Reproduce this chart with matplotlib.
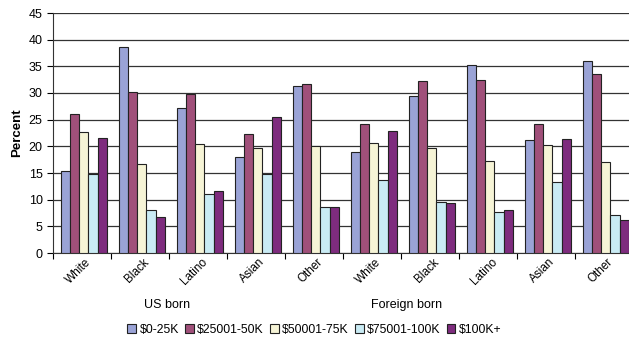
import numpy as np
import matplotlib.pyplot as plt

plt.rcParams['font.family'] = ['Liberation Sans', 'DejaVu Sans']

# ---- data ----
groups = ['White', 'Black', 'Latino', 'Asian', 'Other',
          'White', 'Black', 'Latino', 'Asian', 'Other']
income = ['$0-25K', '$25001-50K', '$50001-75K', '$75001-100K', '$100K+']

inc_0_25 = [15.4, 38.7, 27.2, 18.0, 31.3, 18.9, 29.5, 35.2, 21.1, 36.0]
inc_25_50 = [26.1, 30.1, 29.9, 22.3, 31.7, 24.2, 32.3, 32.5, 24.2, 33.6]
inc_50_75 = [22.7, 16.6, 20.4, 19.7, 20.0, 20.7, 19.6, 17.2, 20.2, 17.0]
inc_75_100 = [14.9, 8.0, 11.1, 14.9, 8.7, 13.6, 9.6, 7.6, 13.4, 7.2]
inc_100 = [21.6, 6.8, 11.7, 25.5, 8.6, 22.9, 9.4, 8.0, 21.3, 6.2]

series = [inc_0_25, inc_25_50, inc_50_75, inc_75_100, inc_100]
colors = ['#9AA3D6', '#A0507A', '#F6F4D6', '#C9EBF4', '#7E2C7E']

fig = plt.figure(figsize=(6.29, 3.41), dpi=100)
ax = fig.add_axes([53 / 629, 88 / 341, 1 - 53 / 629, 240 / 341])

x = np.arange(len(groups))
w = 0.16
for i, (vals, c) in enumerate(zip(series, colors)):
    ax.bar(x - 2 * w + i * w + 0.03, vals, width=w, color=c, edgecolor='#222222',
           linewidth=0.8, label=income[i], zorder=3)

ax.set_ylim(0, 45)
ax.set_xlim(-0.5, 9.43)
ax.set_yticks(range(0, 46, 5))
ax.tick_params(axis='y', labelsize=9, length=4, width=0.8)
ax.grid(axis='y', color='#333333', linewidth=0.9, zorder=0)
ax.set_axisbelow(True)

for s in ['top', 'right']:
    ax.spines[s].set_visible(False)
ax.spines['left'].set_color('#333333')
ax.spines['bottom'].set_color('#333333')

# tick marks between groups, labels at group centres
ax.set_xticks(np.arange(-0.5, 9.5, 1.0))
ax.set_xticklabels([])
ax.tick_params(axis='x', length=4, width=0.8)
for xi, g in zip(x, groups):
    ax.text(xi + 0.05, -0.6, g, rotation=45, ha='right', va='top', rotation_mode='anchor',
            fontsize=8.5)

ax.text(1.47, -9.8, 'US born', ha='center', va='center', fontsize=9)
ax.text(5.6, -9.8, 'Foreign born', ha='center', va='center', fontsize=9)

ax.set_ylabel('Percent', fontsize=9.5, fontweight='bold', labelpad=4)

fig.legend(loc='center', bbox_to_anchor=(0.5, 1 - 330 / 341), ncol=5, frameon=False,
           fontsize=8.8, handlelength=0.7, handleheight=0.7, handletextpad=0.3,
           columnspacing=0.5)

fig.savefig('out.png', dpi=100)
